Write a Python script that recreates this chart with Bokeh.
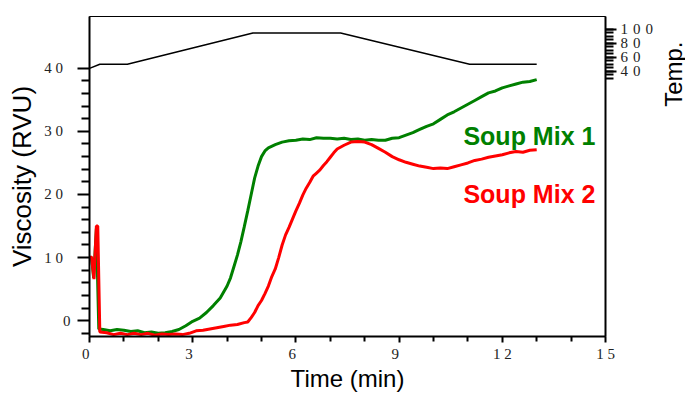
import math
from bokeh.plotting import figure
from bokeh.layouts import row
from bokeh.models import Range1d, LinearAxis, FixedTicker, CustomJSTickFormatter, Label
from bokeh.core.properties import value
from bokeh.embed import file_html
from bokeh.resources import INLINE

# ---- data ----
t1 = [0.0, 0.06, 0.12, 0.2, 0.27, 0.4, 0.6, 0.8, 1.0, 1.2, 1.4, 1.6, 1.8, 2.0, 2.2, 2.4, 2.6, 2.8,
      3.0, 3.2, 3.4, 3.6, 3.8, 4.0, 4.1, 4.2, 4.3, 4.4, 4.5, 4.6, 4.7, 4.8, 4.9, 5.0, 5.1, 5.2,
      5.4, 5.6, 5.8, 6.0, 6.2, 6.4, 6.6, 6.8, 7.0, 7.2, 7.4, 7.6, 7.8, 8.0, 8.2, 8.4, 8.6, 8.8,
      9.0, 9.2, 9.4, 9.6, 9.8, 10.0, 10.2, 10.4, 10.6, 10.8, 11.0, 11.2, 11.4, 11.6, 11.8, 12.0,
      12.2, 12.4, 12.6, 12.8, 13.0]
mix1 = [10.0, 10.0, 6.8, 14.6, -1.3, -1.4, -1.6, -1.4, -1.5, -1.7, -1.6, -1.9, -1.8, -2.0, -1.9,
        -1.7, -1.4, -0.8, -0.1, 0.4, 1.3, 2.4, 3.6, 5.5, 6.8, 8.6, 10.4, 12.5, 14.9, 17.4, 20.0,
        22.6, 24.5, 26.0, 26.9, 27.4, 27.9, 28.3, 28.5, 28.6, 28.8, 28.7, 29.0, 28.9, 28.9, 28.8,
        28.9, 28.7, 28.8, 28.6, 28.7, 28.6, 28.6, 28.9, 29.0, 29.4, 29.8, 30.3, 30.8, 31.2, 31.9,
        32.6, 33.1, 33.7, 34.3, 34.9, 35.5, 36.1, 36.4, 36.9, 37.2, 37.5, 37.8, 37.9, 38.2]

t2 = [0.0, 0.06, 0.13, 0.2, 0.24, 0.3, 0.5, 0.7, 0.9, 1.1, 1.3, 1.5, 1.7, 1.9, 2.1, 2.3, 2.5, 2.7,
      2.9, 3.1, 3.3, 3.5, 3.7, 3.9, 4.1, 4.3, 4.5, 4.6, 4.7, 4.8, 4.9, 5.0, 5.1, 5.2, 5.3, 5.4,
      5.5, 5.6, 5.7, 5.8, 5.9, 6.0, 6.1, 6.2, 6.3, 6.4, 6.5, 6.6, 6.7, 6.8, 6.9, 7.0, 7.1, 7.2,
      7.4, 7.6, 7.8, 8.0, 8.2, 8.4, 8.6, 8.8, 9.0, 9.2, 9.4, 9.6, 9.8, 10.0, 10.2, 10.4, 10.6,
      10.8, 11.0, 11.2, 11.4, 11.6, 11.8, 12.0, 12.2, 12.4, 12.6, 12.8, 13.0]
mix2 = [10.0, 10.1, 6.6, 15.0, 15.0, -1.8, -1.9, -2.2, -2.0, -2.2, -2.0, -2.2, -2.0, -2.3, -2.1,
        -2.2, -2.1, -2.2, -2.0, -1.6, -1.5, -1.3, -1.1, -0.9, -0.7, -0.6, -0.3, -0.2, 0.5, 1.3,
        2.4, 3.2, 4.3, 5.5, 7.0, 8.2, 10.0, 12.0, 13.6, 14.8, 16.1, 17.4, 18.6, 19.9, 21.0, 21.9,
        22.9, 23.4, 23.9, 24.6, 25.2, 25.9, 26.6, 27.2, 27.8, 28.3, 28.4, 28.3, 27.9, 27.3, 26.7,
        26.0, 25.5, 25.1, 24.8, 24.5, 24.3, 24.1, 24.2, 24.1, 24.4, 24.7, 25.0, 25.4, 25.6, 25.9,
        26.1, 26.3, 26.6, 26.8, 26.7, 27.0, 27.1]

t_temp = [0.0, 0.3, 1.1, 4.75, 7.3, 11.05, 13.0]
temp = [44, 50, 50, 95, 95, 50, 50]

x_major = [0, 3, 6, 9, 12, 15]
x_minor = [1, 2, 4, 5, 7, 8, 10, 11, 13, 14]
y_major = [0, 10, 20, 30, 40]
y_minor = [-2, 2, 4, 6, 8, 12, 14, 16, 18, 22, 24, 26, 28, 32, 34, 36, 38]
temp_major = [40, 60, 80, 100]
temp_minor = list(range(30, 101, 5))

# spaced digit labels, as in the reference
x_fmt = CustomJSTickFormatter(code="""
const s = tick.toString();
const t = s.split('').join(' ');
return s.length == 1 ? t + '\\u2002' : t;
""")
y_fmt = CustomJSTickFormatter(code="""
const s = tick.toString();
const t = s.split('').join(' ');
return s.length > 1 ? t + '\\u2002' : t;
""")
r_fmt = CustomJSTickFormatter(code="return tick.toString().split('').join('\\u2004');")

p = figure(width=656, height=394, output_backend="svg", toolbar_location=None,
           x_range=Range1d(0, 15), y_range=Range1d(-2.5, 48.2),
           min_border_left=89, min_border_right=51, min_border_top=16, min_border_bottom=56)
p.extra_y_ranges = {"temp": Range1d(-341.4, 118.6)}
p.xgrid.visible = False
p.ygrid.visible = False
p.outline_line_color = "black"
p.outline_line_width = 1
p.background_fill_color = "white"
p.border_fill_color = "white"

tick_font = "Liberation Serif"

xa = p.xaxis[0]
xa.ticker = FixedTicker(ticks=x_major, minor_ticks=x_minor)
xa.formatter = x_fmt
xa.axis_label = "Time (min)"
ya = p.yaxis[0]
ya.ticker = FixedTicker(ticks=y_major, minor_ticks=y_minor)
ya.formatter = y_fmt
ya.axis_label = "Viscosity (RVU)"

ra = LinearAxis(y_range_name="temp", ticker=FixedTicker(ticks=temp_major, minor_ticks=temp_minor),
                formatter=r_fmt)
p.add_layout(ra, "right")

for ax, (mo, mi, so) in ((xa, (6, 5, 4)), (ya, (12, 8, 7)), (ra, (11, 8, 4))):
    ax.axis_line_color = "black"
    ax.axis_line_width = 2
    ax.major_tick_line_color = "black"
    ax.minor_tick_line_color = "black"
    ax.major_tick_line_width = 2
    ax.minor_tick_line_width = 2
    ax.major_tick_in = 0
    ax.minor_tick_in = 0
    ax.major_tick_out = mo
    ax.minor_tick_out = mi
    ax.major_label_text_font = tick_font
    ax.major_label_text_font_size = "15px"
    ax.major_label_text_color = "#222222"
    ax.major_label_standoff = so
    ax.axis_label_text_font = "Liberation Sans"
    ax.axis_label_text_font_size = "26px"
    ax.axis_label_text_font_style = "normal"
    ax.axis_label_text_color = "black"
    ax.axis_label_standoff = 4
xa.axis_label_text_font_size = "24px"
xa.axis_label_standoff = 0
xa.major_label_standoff = 3

p.line(t_temp, temp, y_range_name="temp", line_color="black", line_width=1.5)
p.line(t1, mix1, line_color="#008000", line_width=3)
p.line(t2, mix2, line_color="#ff0000", line_width=3)

lab_font = "Liberation Sans"
p.add_layout(Label(x=10.87, y=29.3, text="Soup Mix 1", text_font=lab_font,
                   text_font_style="bold", text_font_size="25px", text_color="#008000",
                   text_baseline="alphabetic"))
p.add_layout(Label(x=10.87, y=20.0, text="Soup Mix 2", text_font=lab_font,
                   text_font_style="bold", text_font_size="25px", text_color="#ff0000",
                   text_baseline="alphabetic"))

# narrow side panel carrying the rotated "Temp." axis title
p2 = figure(width=29, height=394, output_backend="svg", toolbar_location=None,
            x_range=Range1d(0, 29), y_range=Range1d(0, 394),
            x_axis_location=None, y_axis_location=None, min_border=0)
p2.xgrid.visible = False
p2.ygrid.visible = False
p2.outline_line_color = None
p2.background_fill_color = "white"
p2.border_fill_color = "white"
p2.text(x=[3], y=[323], text=["Temp."], angle=math.pi / 2,
        text_font=value(lab_font), text_font_size=value("24px"), text_color="black",
        text_align="center", text_baseline="top")

layout = row(p, p2)
open("out.html", "w").write(file_html(layout, INLINE))
